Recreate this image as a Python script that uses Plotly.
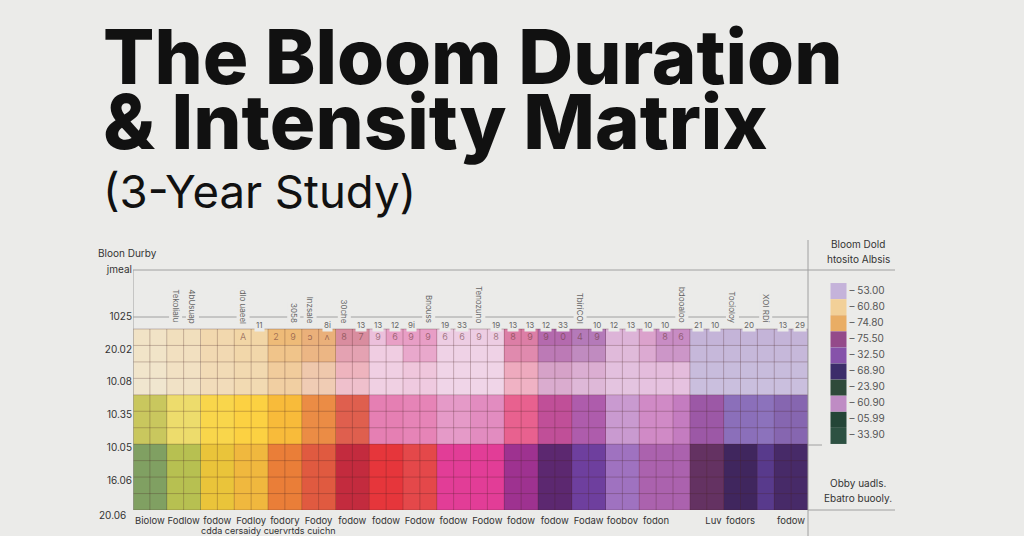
import plotly.graph_objects as go

W, H = 1024, 536
BODY_MARGIN = 8          # default page margin; removed after the first draw
BG = "#ebebe9"

# ---------------- data ----------------
TITLE_LINES = ["The Bloom Duration", "& Intensity Matrix", "(3-Year Study)"]

def runs(*pairs):
    out = []
    for color, n in pairs:
        out += [color] * n
    return out

ROW_T0 = runs(("#f1e3c6", 2), ("#f1dfbd", 2), ("#f2d8ae", 2), ("#f2d6a6", 2), ("#eebb78", 2), ("#eab07a", 2),
              ("#d98d9f", 2), ("#ecc0dc", 1), ("#e8a0c6", 1), ("#e89ec6", 2), ("#edcde3", 4), ("#dc7ea6", 2),
              ("#b46aae", 2), ("#b47ab9", 2), ("#ddb4d8", 2), ("#dba2cc", 1), ("#c88cc4", 2), ("#c4b4d8", 7))
ROW_T1 = runs(("#f1e4c8", 2), ("#f2e0c0", 2), ("#f2d9b2", 2), ("#f2d7aa", 2), ("#f0c48a", 2), ("#ecb684", 2),
              ("#e4a2b2", 2), ("#f0cde2", 2), ("#e9a8cc", 2), ("#efd2e6", 4), ("#e08aae", 2), ("#bc7ab6", 2),
              ("#c08bc0", 2), ("#e0bada", 2), ("#dcaad2", 1), ("#cc96c8", 2), ("#c6b8da", 7))
ROW_T2 = runs(("#f1e5cb", 2), ("#f2e1c3", 2), ("#f2dbb6", 2), ("#f2d9b0", 2), ("#f1cc9c", 2), ("#efc8ac", 2),
              ("#eeb4be", 2), ("#f0cfe3", 2), ("#efc6dc", 2), ("#f0d4e7", 4), ("#eeaabe", 2), ("#d6a2c8", 2),
              ("#dbaed2", 2), ("#e3c0de", 2), ("#e4bcdc", 3), ("#c8bcdc", 7))
ROW_T3 = runs(("#f0e6cf", 2), ("#f1e2c6", 2), ("#f2dcba", 2), ("#f2dab2", 2), ("#f1cfa2", 2), ("#f0ccb4", 2),
              ("#efc0cc", 2), ("#f0d0e3", 2), ("#efcae0", 2), ("#f0d5e8", 4), ("#f0b2c4", 2), ("#daaccf", 2),
              ("#deb8d8", 2), ("#e4c4e0", 2), ("#e6c2e0", 3), ("#cabfde", 7))
ROW_MID = runs(("#c9c75e", 2), ("#eddc6c", 2), ("#f9d64b", 2), ("#fcd142", 2), ("#f8bb3a", 2), ("#eb8c45", 2),
               ("#df5f4e", 2), ("#e57fb3", 2), ("#e684b7", 2), ("#e59ac8", 2), ("#e28cc0", 2), ("#e8618f", 2),
               ("#c04f98", 2), ("#ae5cac", 2), ("#c99ad0", 2), ("#d08ac6", 2), ("#c47cc0", 1), ("#9c58a6", 2),
               ("#8b6fba", 2), ("#8c72bc", 1), ("#8666b0", 2))
ROW_BOT = runs(("#80a062", 2), ("#b7c051", 2), ("#eac43a", 2), ("#f0b83e", 2), ("#ea7e38", 2), ("#e05a40", 2),
               ("#c32b3e", 2), ("#e6363b", 2), ("#e4484a", 2), ("#e23d97", 4), ("#9e3290", 2), ("#5c2870", 2),
               ("#6e3f9e", 2), ("#9f72c0", 2), ("#ab62ae", 3), ("#643262", 2), ("#40265e", 2), ("#583a8c", 1),
               ("#472a68", 2))
CELL_ROWS = [ROW_T0, ROW_T1, ROW_T2, ROW_T3, ROW_MID, ROW_MID, ROW_MID, ROW_BOT, ROW_BOT, ROW_BOT, ROW_BOT]

TOP_CELL_TEXT = {6: "A", 8: "2", 9: "9", 10: "ɔ", 11: "ʌ", 12: "8", 13: "7", 14: "9", 15: "6", 16: "9",
                 17: "9", 18: "6", 19: "6", 20: "9", 21: "8", 22: "8", 23: "9", 24: "9", 25: "0", 26: "4",
                 27: "9", 31: "8", 32: "6"}

HEADER_NUMBERS = {7: "11", 11: "8i", 13: "13", 14: "13", 15: "12", 16: "9i", 18: "19", 19: "33", 21: "19",
                  22: "13", 23: "13", 24: "12", 25: "33", 27: "10", 28: "12", 29: "13", 30: "10", 31: "10",
                  33: "21", 34: "10", 36: "20", 38: "13", 39: "29"}
HEADER_ROTATED = {2: "Tekolialu", 3: "4bUsuap", 6: "dlo uaeel", 9: "3058", 10: "Inzsale", 12: "30che",
                  17: "Bnouss", 20: "Tenozuno", 26: "TbiriCOI", 32: "bdooaloo", 35: "Tocioloy", 37: "XOI RDi"}

BOTTOM_POS = [0.5, 2.5, 4.5, 6.5, 8.5, 10.5, 12.5, 14.5, 16.5, 18.5, 20.5, 22.5, 24.5, 26.5, 28.5, 30.5,
              33.9, 35.5, 38.5]
BOTTOM_LABELS = ["Biolow", "Fodlow", "fodow", "Fodloy", "fodory", "Fodoy", "fodow", "fodow", "Fodow",
                 "fodow", "Fodow", "fodow", "fodow", "Fodaw", "foobov", "fodon", "Luv", "fodors", "fodow"]
BOTTOM_SUB = "cdda cersaidy cuervrtds cuichn"

Y_TICK_POS = [-4.09, -1.23, 0.72, 2.66, 4.67, 6.73, 8.68]
Y_TICK_TEXT = ["jmeal", "1025", "20.02", "10.08", "10.35", "10.05", "16.06"]
Y_LAST_TICK = "20.06"
Y_TITLE = "Bloon Durby"

LEGEND_TITLE = ["Bloom Dold", "htosito Albsis"]
LEGEND_COLORS = ["#c5b3da", "#f2d098", "#e9ad64", "#944a8a", "#8652aa", "#3c2d6a", "#2f4a3a", "#bf8cc4",
                 "#244537", "#2d5142"]
LEGEND_VALUES = ["53.00", "60.80", "74.80", "75.50", "32.50", "68.90", "23.90", "60.90", "05.99", "33.90"]
LEGEND_NOTE = ["Obby uadls.", "Ebatro buooly."]

# ---------------- build ----------------
n_rows = len(CELL_ROWS)
n_cols = len(CELL_ROWS[0])

palette = []
for row in CELL_ROWS:
    for c in row:
        if c not in palette:
            palette.append(c)
z = [[palette.index(c) for c in row] for row in CELL_ROWS]
colorscale = [[i / (len(palette) - 1), c] for i, c in enumerate(palette)]
cell_text = [[TOP_CELL_TEXT.get(j, "") if i == 0 else "" for j in range(n_cols)] for i in range(n_rows)]

# positions are given for the final full-window figure (W x H, no page margin)
def px_x(p):
    return p / W

def px_y(p):
    return 1 - p / H

GRID_TOP, GRID_BOTTOM, AX_TOP = 329, 510, 240
row_h = (GRID_BOTTOM - GRID_TOP) / n_rows
y_top_val = -0.5 - (GRID_TOP - AX_TOP) / row_h

fig = go.Figure()

fig.add_trace(go.Heatmap(
    z=z, x=list(range(n_cols)), y=list(range(n_rows)),
    colorscale=colorscale, zmin=0, zmax=len(palette) - 1, showscale=False,
    text=cell_text, texttemplate="%{text}",
    textfont=dict(size=9, color="rgba(110,60,60,0.6)", family="Inter"),
    hoverinfo="skip",
))

gx, gy = [], []
for k in range(n_cols + 1):
    gx += [k - 0.5, k - 0.5, None]
    gy += [-0.5, n_rows - 0.5, None]
for k in range(n_rows + 1):
    gx += [-0.5, n_cols - 0.5, None]
    gy += [k - 0.5, k - 0.5, None]
fig.add_trace(go.Scatter(x=gx, y=gy, mode="lines", line=dict(color="rgba(70,35,35,0.27)", width=1),
                         hoverinfo="skip", showlegend=False))

fig.add_trace(go.Scatter(
    x=[30.5] * len(LEGEND_COLORS), y=list(range(len(LEGEND_COLORS))), xaxis="x2", yaxis="y2",
    mode="markers+text", marker=dict(symbol="square", size=16, color=LEGEND_COLORS, line=dict(width=0)),
    text=["– " + v for v in LEGEND_VALUES], textposition="middle right",
    textfont=dict(size=10, color="#555", family="Inter"), cliponaxis=False, hoverinfo="skip", showlegend=False,
))

annotations = []
title_y = [56, 121, 192]
title_size = [76, 76, 45.5]
title_weight = [800, 800, 400]
for t, yy, s, wgt in zip(TITLE_LINES, title_y, title_size, title_weight):
    annotations.append(dict(text=t, x=px_x(101), y=px_y(yy), xref="paper", yref="paper", xanchor="left",
                            yanchor="middle", showarrow=False,
                            font=dict(size=s, color="#111111", family="Inter", weight=wgt)))

annotations.append(dict(text=Y_TITLE, x=px_x(96), y=px_y(253), xref="paper", yref="paper", xanchor="left",
                        yanchor="middle", showarrow=False, font=dict(size=10, color="#333", family="Inter")))
annotations.append(dict(text=Y_LAST_TICK, x=px_x(128), y=px_y(515), xref="paper", yref="paper",
                        xanchor="right", yanchor="middle", showarrow=False,
                        font=dict(size=10, color="#333", family="Inter")))

for col, t in HEADER_NUMBERS.items():
    annotations.append(dict(text=t, x=col, y=-0.75, xref="x", yref="y", showarrow=False, bgcolor=BG,
                            borderpad=1, font=dict(size=8, color="#666", family="Inter")))
for col, t in HEADER_ROTATED.items():
    annotations.append(dict(text=t, x=col, y=-0.72, xref="x", yref="y", showarrow=False, textangle=90,
                            yanchor="bottom", bgcolor=BG, borderpad=1,
                            font=dict(size=8, color="#666", family="Inter")))

annotations.append(dict(text=BOTTOM_SUB, x=7.5, y=px_y(530.5), xref="x", yref="paper", xanchor="center",
                        yanchor="middle", showarrow=False, font=dict(size=9, color="#333", family="Inter")))

for i, t in enumerate(LEGEND_TITLE):
    annotations.append(dict(text=t, x=px_x(858), y=px_y(244 + 15 * i), xref="paper", yref="paper",
                            xanchor="center", yanchor="middle", showarrow=False,
                            font=dict(size=10, color="#333", family="Inter")))
for i, t in enumerate(LEGEND_NOTE):
    annotations.append(dict(text=t, x=px_x(858), y=px_y(483 + 15 * i), xref="paper", yref="paper",
                            xanchor="center", yanchor="middle", showarrow=False,
                            font=dict(size=10, color="#333", family="Inter")))

line_col = "#a0a0a0"
y_top_line = -0.5 - (GRID_TOP - 270) / row_h
y_hdr_line = -0.5 - (GRID_TOP - 317) / row_h
shapes = [
    dict(type="line", xref="paper", yref="y", x0=px_x(133), x1=px_x(895), y0=y_top_line, y1=y_top_line,
         line=dict(color=line_col, width=1)),
    dict(type="line", xref="x", yref="y", x0=-0.5, x1=n_cols - 0.5, y0=y_hdr_line, y1=y_hdr_line,
         line=dict(color=line_col, width=1), layer="below"),
    dict(type="line", xref="x", yref="y", x0=-0.5, x1=-0.5, y0=y_top_line, y1=n_rows - 0.5,
         line=dict(color=line_col, width=1)),
    dict(type="line", xref="paper", yref="paper", x0=px_x(808), x1=px_x(808), y0=px_y(240), y1=0,
         line=dict(color=line_col, width=1)),
    dict(type="line", xref="paper", yref="paper", x0=px_x(808), x1=px_x(822), y0=px_y(445), y1=px_y(445),
         line=dict(color=line_col, width=1)),
    dict(type="line", xref="paper", yref="paper", x0=px_x(808), x1=px_x(895), y0=px_y(510), y1=px_y(510),
         line=dict(color=line_col, width=1)),
]

fig.update_layout(
    # drawn first inside the default page margin, then resized to the full window (see PAGE_JS)
    width=W - 2 * BODY_MARGIN, height=H - 2 * BODY_MARGIN, autosize=False,
    margin=dict(l=0, r=0, t=0, b=0),
    paper_bgcolor=BG, plot_bgcolor=BG,
    showlegend=False,
    xaxis=dict(domain=[px_x(133), px_x(808)], range=[-0.5, n_cols - 0.5], tickvals=BOTTOM_POS,
               ticktext=BOTTOM_LABELS, ticks="", tickangle=0, showgrid=False, zeroline=False, showline=False,
               ticklabelstandoff=3,
               tickfont=dict(size=9.5, color="#333", family="Inter"), fixedrange=True),
    yaxis=dict(domain=[px_y(GRID_BOTTOM), px_y(AX_TOP)], range=[n_rows - 0.5, y_top_val], tickvals=Y_TICK_POS,
               ticktext=Y_TICK_TEXT, ticks="", showgrid=False, zeroline=False, showline=False,
               tickfont=dict(size=10, color="#333", family="Inter"), fixedrange=True),
    xaxis2=dict(domain=[px_x(808), px_x(895)], range=[0, 87], visible=False, anchor="y2"),
    yaxis2=dict(domain=[px_y(444), px_y(283)], range=[9.5, -0.5], visible=False, anchor="x2"),
    annotations=annotations,
    shapes=shapes,
)

PAGE_JS = (
    "document.body.style.background='%s';"
    "document.body.style.margin='0';"
    "var gd=document.getElementById('{plot_id}');"
    "gd.style.width='%dpx';gd.style.height='%dpx';"
    "return Plotly.relayout(gd,{width:%d,height:%d});" % (BG, W, H, W, H)
)

fig.write_html("out.html", config={"displayModeBar": False}, post_script=PAGE_JS)
